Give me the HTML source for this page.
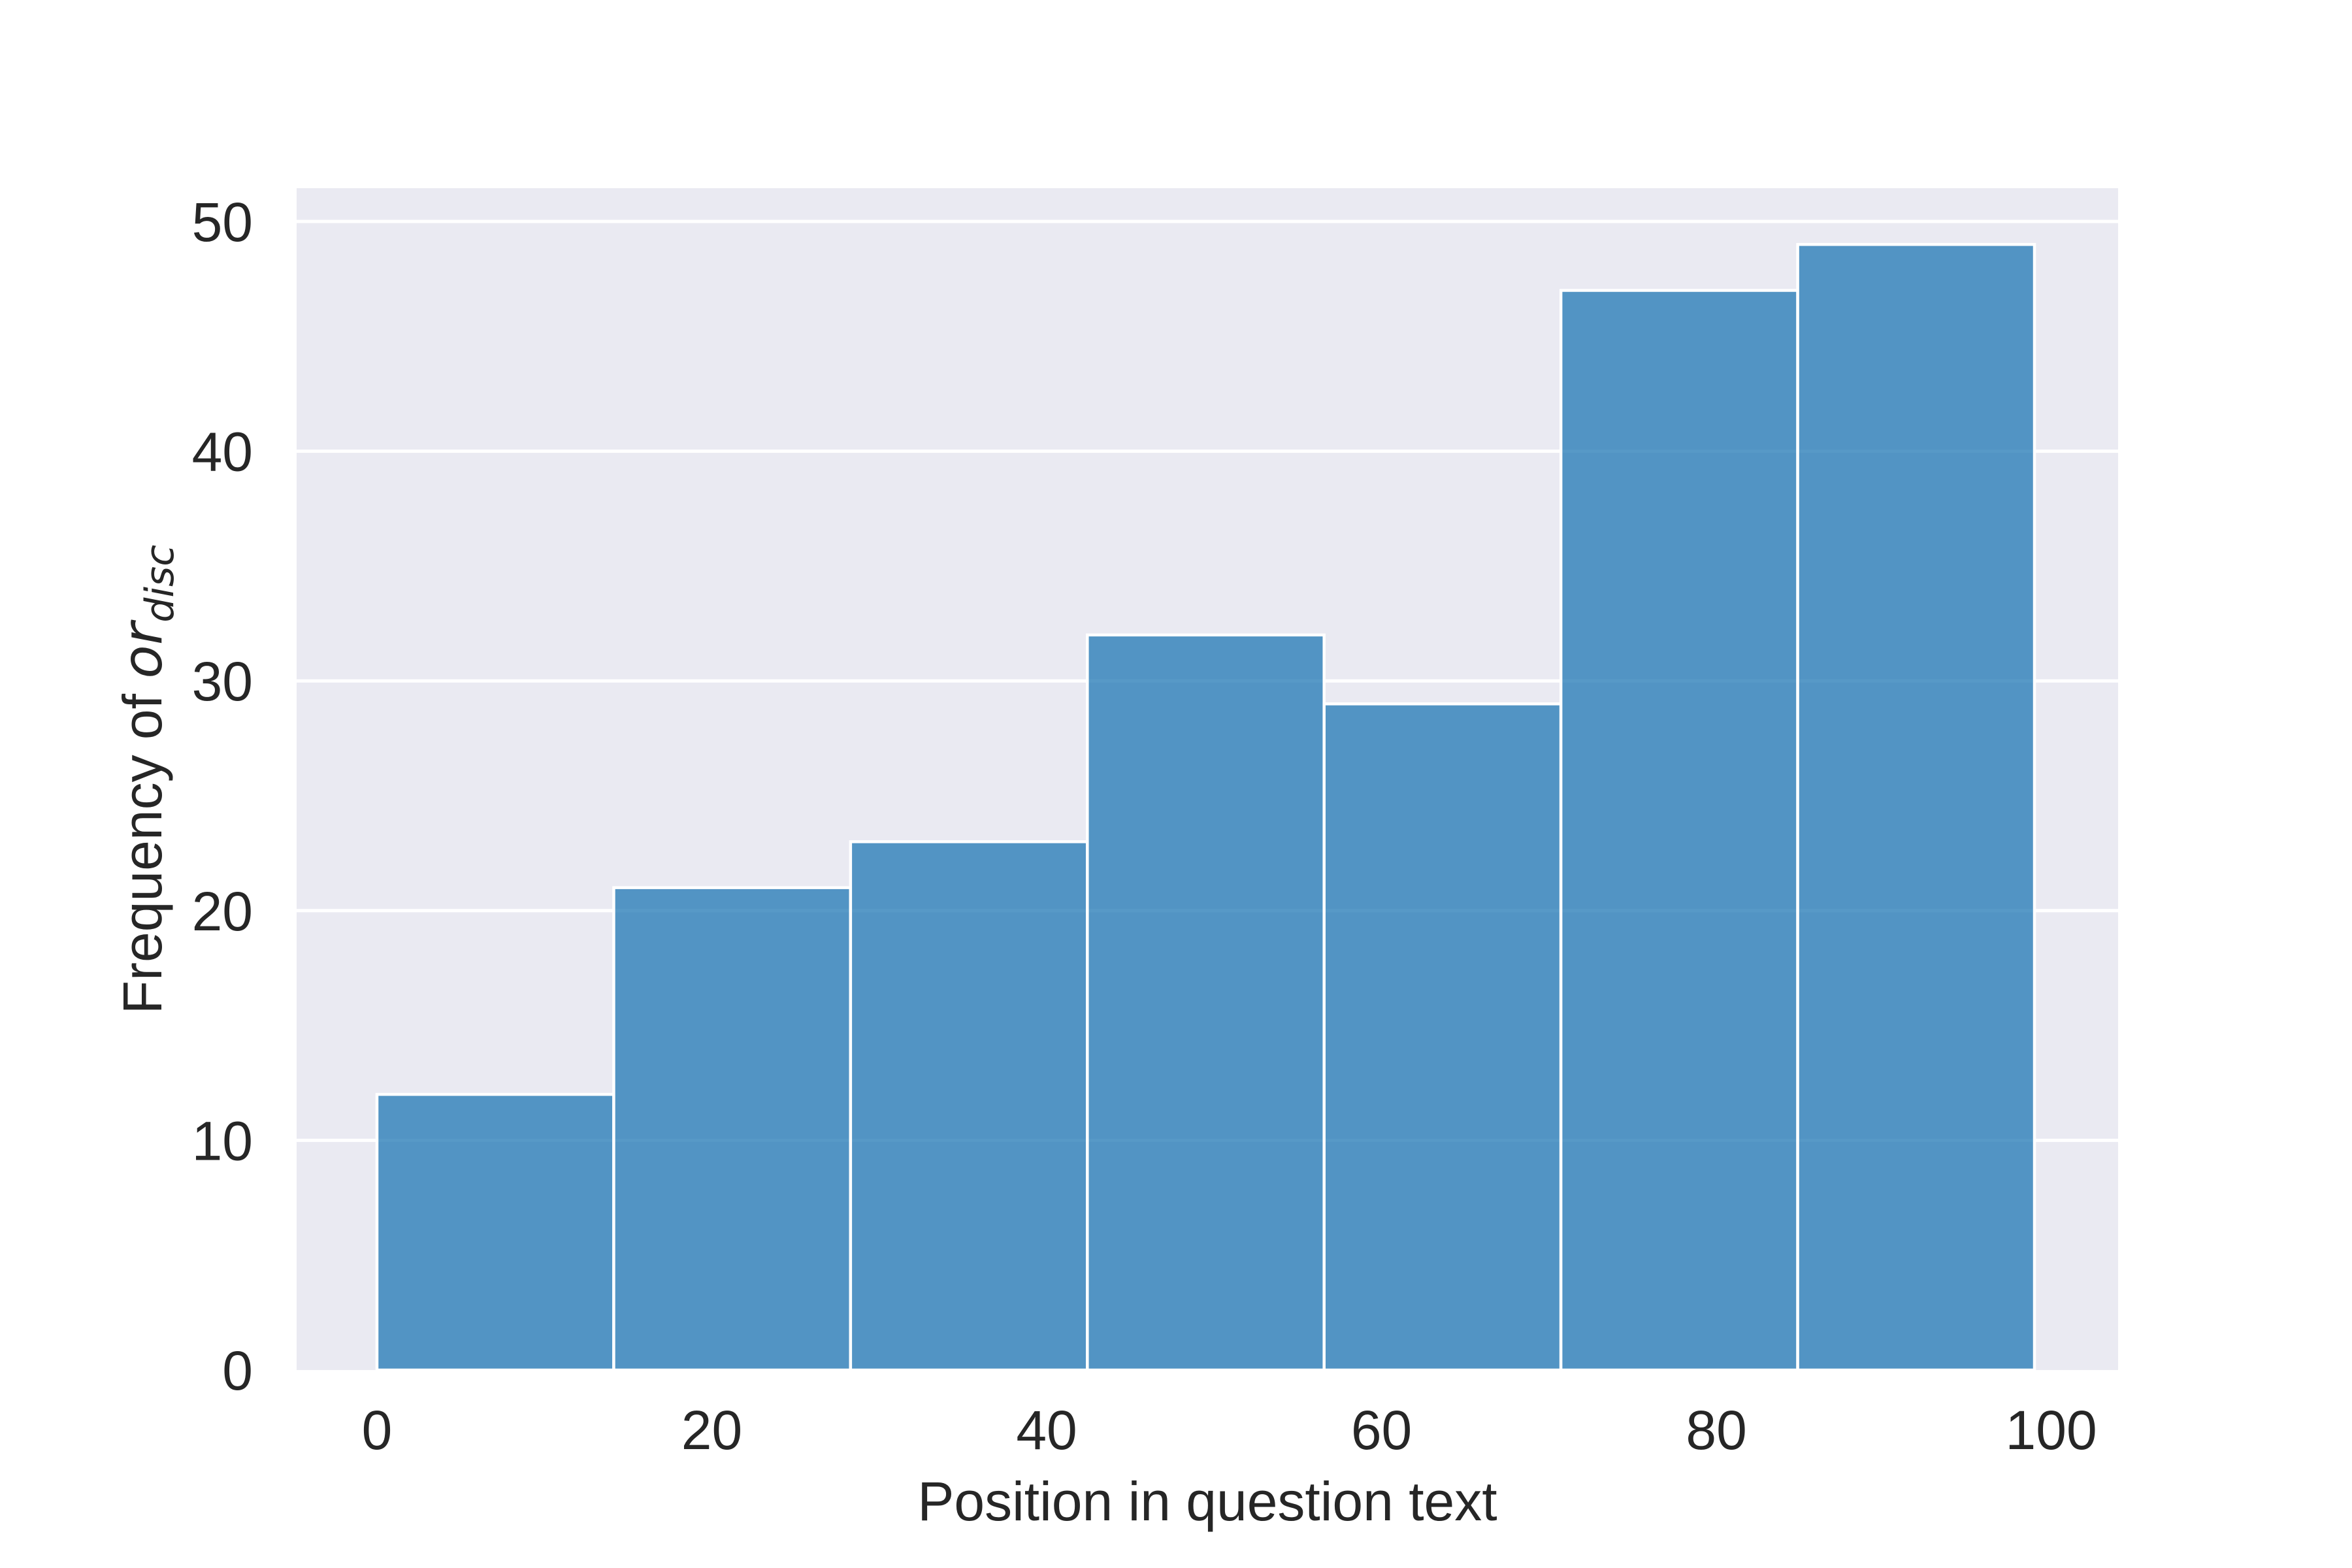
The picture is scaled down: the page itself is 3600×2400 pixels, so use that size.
<!DOCTYPE html>
<html><head><meta charset="utf-8"><style>
html,body{margin:0;padding:0;background:#fff;}
svg{display:block;}
text{font-family:"Liberation Sans",Arial,sans-serif;fill:#262626;}
</style></head><body>
<svg id="chart" width="3600" height="2400" viewBox="0 0 3600 2400" xmlns="http://www.w3.org/2000/svg">
<rect x="454" y="288" width="2788" height="1809" fill="#eaeaf2"/>
<g id="grid"></g>
<g id="bars"></g>
<g id="xticks"></g>
<g id="yticks"></g>
<text x="1848" y="2327" font-size="84" text-anchor="middle">Position in question text</text>
<text transform="translate(247,1193) rotate(-90)" font-size="84" text-anchor="middle">Frequency of <tspan font-family="'DejaVu Sans',sans-serif" font-style="italic">or</tspan><tspan font-family="'DejaVu Sans',sans-serif" font-style="italic" font-size="60" dy="18">disc</tspan></text>
</svg>
<script>
const counts = [12, 21, 23, 32, 29, 47, 49];
const binStart = 0;
const binEnd = 99;
const xTicks = [0, 20, 40, 60, 80, 100];
const yTicks = [0, 10, 20, 30, 40, 50];

const NS = "http://www.w3.org/2000/svg";
const X0 = 577, XS = (3114 - 577) / 99;
const Y0 = 2097, YS = (2097 - 339) / 50;
function xs(v){ return X0 + v * XS; }
function ys(v){ return Y0 - v * YS; }

const grid = document.getElementById('grid');
yTicks.forEach(t => {
  if (t === 0) return;
  const l = document.createElementNS(NS, 'line');
  
  
  l.setAttribute('x1', 454); l.setAttribute('x2', 3242);
  l.setAttribute('y1', ys(t)); l.setAttribute('y2', ys(t));
  l.setAttribute('stroke', '#fff'); l.setAttribute('stroke-width', 5);
  grid.appendChild(l);
});

const bars = document.getElementById('bars');
const w = (binEnd - binStart) / counts.length;
counts.forEach((c, i) => {
  const a = binStart + i * w, b = a + w;
  const r = document.createElementNS(NS, 'rect');
  
  
  r.setAttribute('x', xs(a)); r.setAttribute('width', xs(b) - xs(a));
  r.setAttribute('y', ys(c)); r.setAttribute('height', ys(0) - ys(c));
  r.setAttribute('fill', '#1f77b4'); r.setAttribute('fill-opacity', '0.75');
  r.setAttribute('stroke', '#fff'); r.setAttribute('stroke-width', 4.5);
  bars.appendChild(r);
});

const xt = document.getElementById('xticks');
xTicks.forEach(t => {
  const e = document.createElementNS(NS, 'text');
  
  
  e.setAttribute('x', xs(t)); e.setAttribute('y', 2218);
  e.setAttribute('font-size', 84); e.setAttribute('text-anchor', 'middle');
  e.textContent = t;
  xt.appendChild(e);
});
const yt = document.getElementById('yticks');
yTicks.forEach(t => {
  const e = document.createElementNS(NS, 'text');
  
  
  e.setAttribute('x', 387); e.setAttribute('y', ys(t) + 30);
  e.setAttribute('font-size', 84); e.setAttribute('text-anchor', 'end');
  e.textContent = t;
  yt.appendChild(e);
});
</script>
</body></html>
